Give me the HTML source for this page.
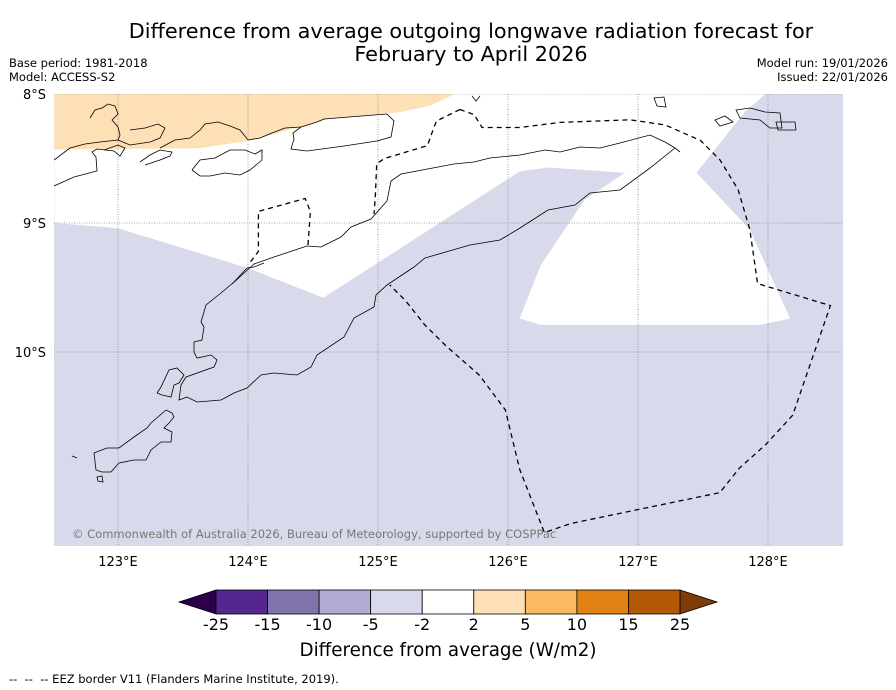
<!DOCTYPE html>
<html><head><meta charset="utf-8"><style>
body{margin:0;background:#fff;font-family:"DejaVu Sans","Liberation Sans",sans-serif;}
#wrap{position:relative;width:896px;height:690px;overflow:hidden;}
.t{position:absolute;white-space:nowrap;color:#000;}
</style></head><body>
<div id="wrap">
<div class="t" style="left:0;width:942px;text-align:center;top:20px;font-size:20.8px;line-height:23px;">Difference from average outgoing longwave radiation forecast for<br>February to April 2026</div>
<div class="t" style="left:9px;top:56px;font-size:11.5px;line-height:14px;">Base period: 1981-2018<br>Model: ACCESS-S2</div>
<div class="t" style="right:8px;top:56px;font-size:11.5px;line-height:14px;text-align:right;">Model run: 19/01/2026<br>Issued: 22/01/2026</div>
<svg id="svg" width="896" height="690" style="position:absolute;left:0;top:0"></svg>
<div class="t" style="left:0;width:896px;text-align:center;top:640px;font-size:18.3px;">Difference from average (W/m2)</div>
<div class="t" style="left:9px;top:672px;font-size:11.5px;">-- &nbsp;-- &nbsp;-- EEZ border V11 (Flanders Marine Institute, 2019).</div>
</div>
<script>
const levels=[-25,-15,-10,-5,-2,2,5,10,15,25];
const levelColors=["#54278f","#8073ac","#b2abd2","#d8daeb","#ffffff","#fee0b6","#fdb863","#e08214","#b35806"];
const extColors=["#2d004b","#7f3b08"];
const lonTicks=[123,124,125,126,127,128];
const latTicks=[8,9,10];
// map field regions (lon, lat °S)
const whiteRegion=[[122.51,8.0],[127.98,8.0],[127.82,8.14],[127.45,8.61],[127.86,9.05],[128.17,9.74],[127.94,9.79],[126.25,9.79],[126.09,9.74],[126.25,9.33],[126.59,8.82],[126.90,8.61],[126.31,8.57],[126.09,8.60],[124.58,9.58],[124.0,9.35],[123.0,9.04],[122.51,9.0]];
const orangeRegion=[[122.51,8.0],[125.59,8.0],[125.40,8.09],[125.17,8.14],[124.63,8.19],[124.02,8.36],[123.63,8.42],[122.51,8.43]];
const eezMain=[[125.63,8.12],[125.74,8.16],[125.80,8.26],[126.09,8.26],[126.40,8.22],[126.94,8.20],[127.21,8.24],[127.48,8.36],[127.63,8.51],[127.77,8.74],[127.86,9.05],[127.92,9.47],[128.48,9.64],[128.19,10.49],[127.98,10.72],[127.78,10.90],[127.63,11.09],[126.48,11.33],[126.28,11.40],[126.09,10.91],[125.98,10.45],[125.78,10.18],[125.52,9.95],[125.36,9.79],[125.21,9.60],[125.09,9.48]];
const eezLeft=[[125.63,8.12],[125.45,8.21],[125.43,8.26],[125.38,8.40],[125.05,8.50],[124.99,8.54],[124.98,8.78],[124.97,8.93]];
const eezOecusse=[[124.02,9.30],[124.08,9.22],[124.08,8.91],[124.44,8.81],[124.48,8.91],[124.46,9.19]];

const L=54,R=843,T=94,B=546;
const X=lon=>118+(lon-123)*130;
const Y=lat=>94+(lat-8)*129;
const svg=document.getElementById('svg');
const NS="http://www.w3.org/2000/svg";
function mk(tag,attrs,parent){const e=document.createElementNS(NS,tag);for(const k in attrs)e.setAttribute(k,attrs[k]);(parent||svg).appendChild(e);return e;}
const pts=a=>a.map(p=>X(p[0]).toFixed(1)+","+Y(p[1]).toFixed(1)).join(" ");

const cp=mk('clipPath',{id:'mc'});
mk('rect',{x:L,y:T,width:R-L,height:B-T},cp);
const g=mk('g',{'clip-path':'url(#mc)'});
let e;
e=mk('rect',{x:L,y:T,width:R-L,height:B-T,fill:levelColors[3]},g);


e=mk('polygon',{points:pts(whiteRegion),fill:'#fff'},g);


e=mk('polygon',{points:pts(orangeRegion),fill:levelColors[5]},g);


lonTicks.forEach(v=>{
  e=mk('line',{x1:X(v),x2:X(v),y1:T,y2:B,stroke:'#888','stroke-width':0.8,'stroke-dasharray':'1,1.5'},g);
  
  
  e=mk('text',{x:X(v),y:566,'font-size':13,'text-anchor':'middle','font-family':'DejaVu Sans, Liberation Sans, sans-serif'});
  e.textContent=v+'°E';
  
  
});
latTicks.forEach(v=>{
  e=mk('line',{x1:L,x2:R,y1:Y(v),y2:Y(v),stroke:'#888','stroke-width':0.8,'stroke-dasharray':'1,1.5'},g);
  
  
  e=mk('text',{x:46,y:Y(v)+5,'font-size':13,'text-anchor':'end','font-family':'DejaVu Sans, Liberation Sans, sans-serif'});
  e.textContent=v+'°S';
  
  
});
const coasts=[
"M54,186 L74,177 L97,171 L96,157 L92,152 L97,149 L114,151 L120,156 L125,148 L118,145 L104,150",
"M90,118 L95,110 L102,108 L108,104 L115,106 L118,114 L112,120 L118,127 L120,135 L118,140 L130,145 L150,142 L160,138 L165,128 L158,124 L145,128 L130,130",
"M160,148 L175,140 L190,138 L200,130 L205,124 L218,122 L230,126 L240,130 L248,140 L260,138 L272,133 L285,128 L301,127",
"M54,160 L70,148 L85,144 L100,142 L118,140",
"M145,165 L160,160 L170,156 L172,152 L160,150 L150,155 L140,162",
"M294,139 L291,149 L307,151 L344,146 L377,141 L391,137 L394,121 L387,114 L324,119 L317,122 L301,127 L293,133 L294,139",
"M192,170 L200,160 L215,158 L230,150 L245,150 L255,154 L262,150 L262,160 L250,170 L240,175 L225,173 L210,176 L200,176 L192,170",
"M232,284 L254,264 L274,257 L307,246 L321,247 L341,237 L351,227 L371,219 L387,201 L391,181 L401,174 L454,164 L474,162 L490,158 L520,155 L545,150 L560,152 L580,147 L600,148 L620,143 L650,135 L665,142 L675,148 L680,152",
"M680,152 L675,148 L650,168 L620,190 L590,193 L575,205 L548,210 L520,228 L500,240 L470,245 L425,258 L414,267 L387,285 L376,295 L374,307 L354,318 L344,337 L317,355 L311,367 L297,375 L274,373 L261,375 L247,388 L234,393 L221,400 L197,402 L187,397 L179,400 L181,385 L186,377 L214,367 L217,360 L211,355 L197,358 L194,352 L194,342 L202,340 L204,327 L201,322 L206,305 L221,293 L234,282 L247,268 L254,267 L264,263",
"M157,393 L161,387 L169,370 L177,368 L184,375 L179,383 L174,385 L171,397 L162,395 L157,393",
"M166,410 L172,413 L174,417 L169,423 L164,428 L172,432 L171,442 L161,442 L151,450 L146,460 L134,460 L119,463 L111,472 L102,472 L96,470 L94,453 L107,448 L119,448 L134,437 L147,428 L151,423 L166,410",
"M97,477 L102,476 L103,482 L98,481 Z","M72,456 L77,458","M654,98 L664,97 L666,107 L657,106 Z",
"M736,110 L750,108 L765,112 L780,113 L782,128 L770,128 L760,120 L740,118 Z","M776,122 L795,122 L796,130 L778,130 Z",
"M715,120 L725,116 L733,122 L720,126 Z","M472,96 L476,101 L480,96"
];
coasts.forEach(d=>{e=mk('path',{d:d,fill:'none',stroke:'#000','stroke-width':0.8},g);

});
[eezMain,eezLeft,eezOecusse].forEach(a=>{
  e=mk('polyline',{points:pts(a),fill:'none',stroke:'#000','stroke-width':1.3,'stroke-dasharray':'5,4'},g);
  
  
});
e=mk('text',{x:72,y:538,'font-size':11.5,fill:'#777','font-family':'DejaVu Sans, Liberation Sans, sans-serif'});
e.textContent='© Commonwealth of Australia 2026, Bureau of Meteorology, supported by COSPPac';


const cbL=216,cbR=680,cbT=590,cbB=614,n=levelColors.length,w=(cbR-cbL)/n;
e=mk('polygon',{points:`${cbL},${cbT} ${cbL-37},${(cbT+cbB)/2} ${cbL},${cbB}`,fill:extColors[0],stroke:'#000','stroke-width':0.8});


e=mk('polygon',{points:`${cbR},${cbT} ${cbR+37},${(cbT+cbB)/2} ${cbR},${cbB}`,fill:extColors[1],stroke:'#000','stroke-width':0.8});


levelColors.forEach((c,i)=>{
  e=mk('rect',{x:cbL+i*w,y:cbT,width:w,height:cbB-cbT,fill:c,stroke:'#000','stroke-width':0.8});
  
  
});
levels.forEach((v,i)=>{
  e=mk('text',{x:cbL+i*w,y:630,'font-size':16,'text-anchor':'middle','font-family':'DejaVu Sans, Liberation Sans, sans-serif'});
  e.textContent=v;
  
  
});
</script>
</body></html>
